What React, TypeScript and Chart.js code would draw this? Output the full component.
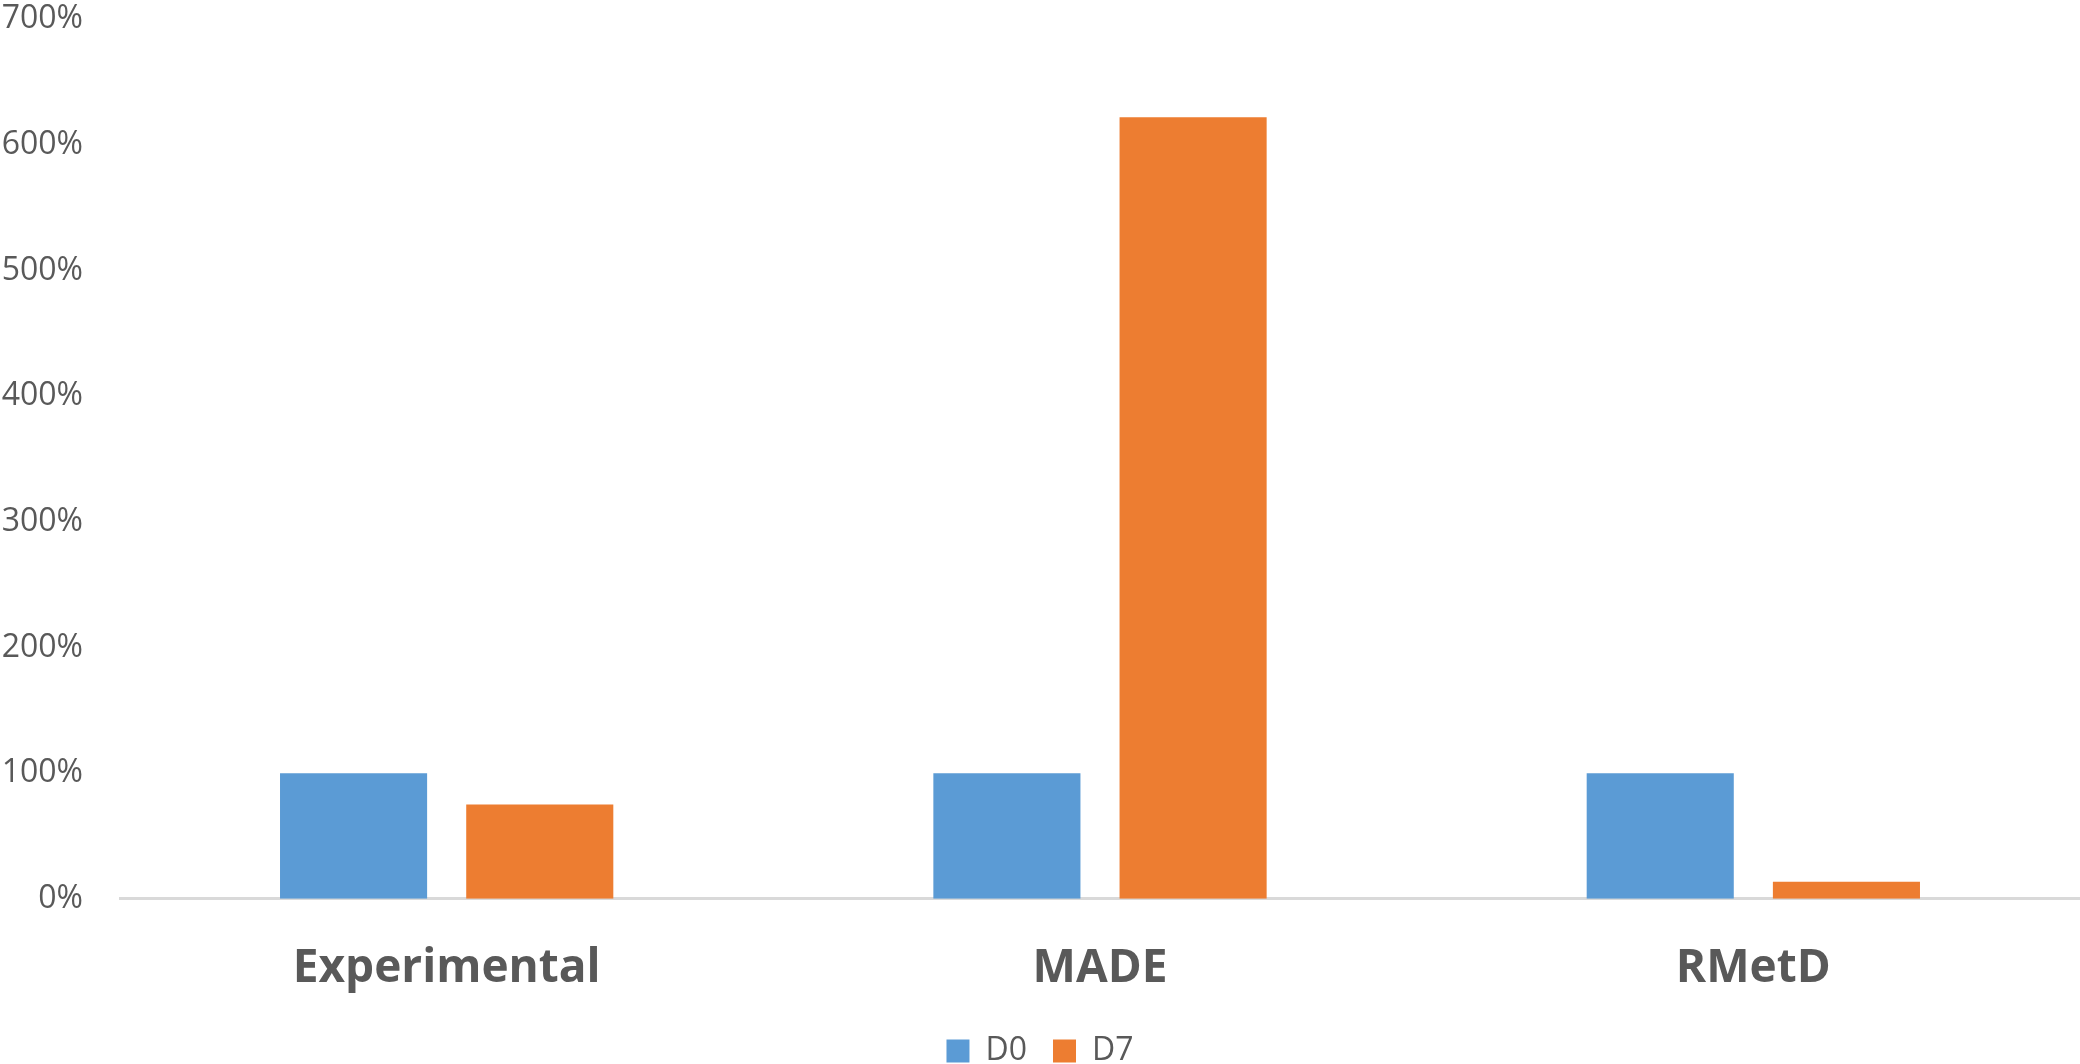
import React, { useEffect, useRef } from "react";
import { Chart, registerables } from "chart.js";

Chart.register(...registerables);

const categories = ["Experimental", "MADE", "RMetD"];
const seriesNames = ["D0", "D7"];
const d0Values = [100, 100, 100];
const d7Values = [75, 622, 13.5];
const yMin = 0;
const yMax = 700;
const yStep = 100;

export default function App() {
  const ref = useRef<HTMLCanvasElement | null>(null);
  useEffect(() => {
    document.body.style.margin = "0";
    const ctx = ref.current!;
    const chart = new Chart(ctx, {
      type: "bar",
      data: {
        labels: categories,
        datasets: [
          { label: seriesNames[0], data: d0Values, backgroundColor: "#5B9BD5" },
          { label: seriesNames[1], data: d7Values, backgroundColor: "#ED7D31" },
        ],
      },
      options: {
        responsive: false,
        animation: false,
        maintainAspectRatio: false,
        layout: { padding: { top: 0, right: 0, left: 0, bottom: -13 } },
        datasets: { bar: { categoryPercentage: 0.57, barPercentage: 0.79 } },
        plugins: {
          tooltip: { enabled: false },
          legend: {
            position: "bottom",
            labels: {
              boxWidth: 23,
              boxHeight: 23,
              padding: 26,
              color: "#595959",
              font: { family: "'Open Sans'", size: 32 },
            },
          },
        },
        scales: {
          x: {
            grid: { display: false, drawTicks: false },
            border: { display: true, color: "#d9d9d9", width: 3 },
            afterFit: (s: any) => {
              s.height = s.height - 29;
            },
            ticks: {
              color: "#595959",
              padding: 42,
              font: { family: "'Open Sans'", size: 46, weight: "bold" },
            },
          },
          y: {
            min: yMin,
            max: yMax,
            grid: { display: false, drawTicks: false },
            border: { display: false },
            afterFit: (s: any) => {
              s.width = 120;
            },
            ticks: {
              stepSize: yStep,
              padding: 37,
              color: "#595959",
              font: { family: "'Open Sans'", size: 32 },
              callback: (v: any) => v + "%",
            },
          },
        },
      },
    } as any);
    return () => chart.destroy();
  }, []);
  return (
    <div style={{ position: "absolute", left: 0, top: 0, width: 2080, height: 1064, overflow: "hidden" }}>
      <canvas
        ref={ref}
        width={2080}
        height={1101}
        style={{ display: "block", position: "absolute", left: 0, top: -37 }}
      />
    </div>
  );
}
